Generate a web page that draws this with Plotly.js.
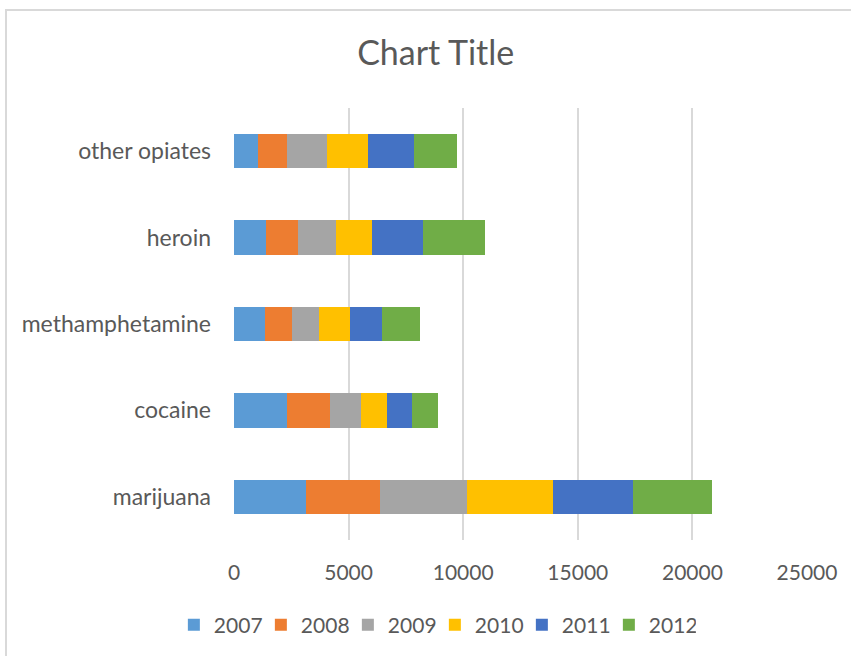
<!DOCTYPE html>
<html>
<head>
<meta charset="utf-8">
<script src="https://cdn.plot.ly/plotly-3.0.1.min.js"></script>
<style>
  html, body { margin: 0; padding: 0; background: #fff; }
  #frame { position: absolute; left: 5px; top: 9px; width: 860px; height: 660px; border: 2px solid #d9d9d9; box-sizing: border-box; }
  #chart { position: absolute; left: 0; top: 0; width: 851px; height: 656px; }
</style>
</head>
<body>
<div id="frame"></div>
<div id="chart"></div>
<script>
const categories = ['marijuana', 'cocaine', 'methamphetamine', 'heroin', 'other opiates'];
const years = ['2007', '2008', '2009', '2010', '2011', '2012'];
const v2007 = [3150, 2320, 1365, 1380, 1045];
const v2008 = [3240, 1890, 1145, 1395, 1250];
const v2009 = [3780, 1340, 1210, 1675, 1775];
const v2010 = [3735, 1145, 1320, 1570, 1785];
const v2011 = [3490, 1090, 1425, 2235, 2005];
const v2012 = [3445, 1120, 1670, 2715, 1875];
const seriesValues = [v2007, v2008, v2009, v2010, v2011, v2012];
const colors = ['#5B9BD5', '#ED7D31', '#A5A5A5', '#FFC000', '#4472C4', '#70AD47'];
const xTicks = [0, 5000, 10000, 15000, 20000, 25000];

const font = 'Lato, "Open Sans", sans-serif';
const traces = years.map((y, i) => ({
  type: 'bar',
  orientation: 'h',
  name: y,
  y: categories,
  x: seriesValues[i],
  width: 0.4,
  marker: { color: colors[i], line: { width: 0 } },
  hoverinfo: 'skip'
}));

const layout = {
  width: 851, height: 656,
  barmode: 'stack',
  paper_bgcolor: 'rgba(0,0,0,0)',
  plot_bgcolor: 'rgba(0,0,0,0)',
  margin: { l: 234, r: 44, t: 108, b: 116 },
  font: { family: font, color: '#595959', size: 20 },
  title: {
    text: 'Chart Title',
    font: { family: font, size: 34, color: '#595959' },
    xref: 'container', x: 0.512, xanchor: 'center',
    yref: 'container', y: 0.919, yanchor: 'middle'
  },
  xaxis: {
    range: [0, 25000],
    tickvals: xTicks,
    ticktext: xTicks.map(String),
    showgrid: true, gridcolor: '#d9d9d9', gridwidth: 2,
    zeroline: false, showline: false, ticks: '',
    ticklabelstandoff: 18,
    tickfont: { family: font, size: 21, color: '#595959' },
    fixedrange: true
  },
  yaxis: {
    type: 'category',
    categoryorder: 'array', categoryarray: categories,
    range: [-0.5, 4.5],
    showgrid: false, zeroline: false, showline: false, ticks: '',
    ticklabelstandoff: 22,
    tickfont: { family: font, size: 23, color: '#595959' },
    fixedrange: true
  },
  legend: {
    orientation: 'h',
    xref: 'container', x: 0.511, xanchor: 'center',
    yref: 'container', y: 0.047, yanchor: 'middle',
    font: { family: font, size: 21, color: '#595959' },
    itemwidth: 30,
    entrywidth: 42, entrywidthmode: 'pixels',
    traceorder: 'normal'
  },
  showlegend: true
};

Plotly.newPlot('chart', traces, layout, { displayModeBar: false, staticPlot: true });
</script>
</body>
</html>
